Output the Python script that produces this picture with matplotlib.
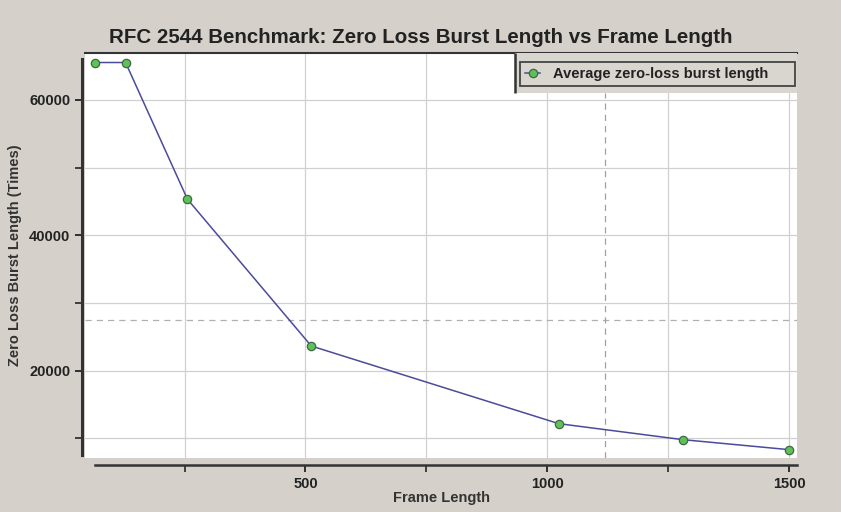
import matplotlib
matplotlib.use('Agg')
import matplotlib.pyplot as plt
from matplotlib.patches import Rectangle
from matplotlib.ticker import MultipleLocator, NullFormatter

plt.rcParams['font.family'] = ['Liberation Sans', 'DejaVu Sans']

frame_len = [64, 128, 256, 512, 1024, 1280, 1500]
burst_len = [65535, 65535, 45330, 23650, 12170, 9810, 8330]
cross_x = 1120
cross_y = 27500

bg = '#d5d1ca'
fig = plt.figure(figsize=(8.41, 5.12), dpi=100, facecolor=bg)
ax = fig.add_axes([0.101, 0.1055, 0.847, 0.791])
ax.set_facecolor('white')

ax.plot(frame_len, burst_len, color='#4b4b9b', lw=1.1, marker='o', ms=6,
        mfc='#5fbf5a', mec='#3d6b3a', mew=0.9, label='Average zero-loss burst length',
        zorder=4)

ax.axhline(cross_y, color='#b0b0b0', ls=(0, (5, 4)), lw=0.9, zorder=2)
ax.axvline(cross_x, ymax=0.9, color='#a0a0a0', ls=(0, (5, 4)), lw=0.9, zorder=2)

ax.set_xlim(44, 1517)
ax.set_ylim(7100, 66940)

ax.xaxis.set_major_locator(MultipleLocator(500))
ax.xaxis.set_minor_locator(MultipleLocator(250))
ax.yaxis.set_major_locator(MultipleLocator(20000))
ax.yaxis.set_minor_locator(MultipleLocator(10000))
ax.xaxis.set_minor_formatter(NullFormatter())
ax.yaxis.set_minor_formatter(NullFormatter())

ax.grid(True, which='both', color='#d0d0d0', lw=0.9, zorder=1)
ax.set_axisbelow(True)

# grey legend panel in the top right corner
panel = Rectangle((0.604, 0.901), 0.396, 0.099, transform=ax.transAxes,
                  facecolor='#d9d5cf', edgecolor='none', zorder=3)
ax.add_patch(panel)
ax.plot([0.604, 0.604], [0.901, 1.0], transform=ax.transAxes, color='#333333',
        lw=1.8, zorder=3, solid_capstyle='butt')

ax.spines['right'].set_visible(False)
ax.spines['top'].set_color('#333333')
ax.spines['top'].set_linewidth(1.5)
ax.spines['left'].set_color('#333333')
ax.spines['left'].set_linewidth(2.2)
ax.spines['left'].set_position(('outward', 2))
ax.spines['left'].set_bounds(7500, 66000)
ax.spines['bottom'].set_color('#333333')
ax.spines['bottom'].set_linewidth(1.8)
ax.spines['bottom'].set_position(('outward', 5))
ax.spines['bottom'].set_bounds(65, 1517)

ax.tick_params(which='both', direction='out', length=5, width=1.3, color='#333333')
ax.tick_params(labelsize=10.5, colors='#222222')
for lab in ax.get_xticklabels() + ax.get_yticklabels():
    lab.set_fontweight('bold')

ax.set_xlabel('Frame Length', fontsize=10.5, fontweight='bold', color='#333333', labelpad=0)
ax.set_ylabel('Zero Loss Burst Length (Times)', fontsize=10.5, fontweight='bold',
              color='#333333', labelpad=5)
fig.text(0.5, 0.927, 'RFC 2544 Benchmark: Zero Loss Burst Length vs Frame Length',
         ha='center', va='center', fontsize=14.8, fontweight='bold', color='#222222')

leg = ax.legend(loc='upper left', bbox_to_anchor=(0.611, 0.921, 0.386, 0.057),
                mode='expand', fontsize=10.5, frameon=True, fancybox=False,
                facecolor='#d9d5cf', edgecolor='#444444', framealpha=1,
                borderaxespad=0, handlelength=1.0, borderpad=0.35, handletextpad=0.9)
leg.get_frame().set_linewidth(1.3)
leg.set_zorder(5)
for t in leg.get_texts():
    t.set_fontweight('bold')
    t.set_color('#222222')

fig.savefig('out.png', dpi=100, facecolor=bg)
